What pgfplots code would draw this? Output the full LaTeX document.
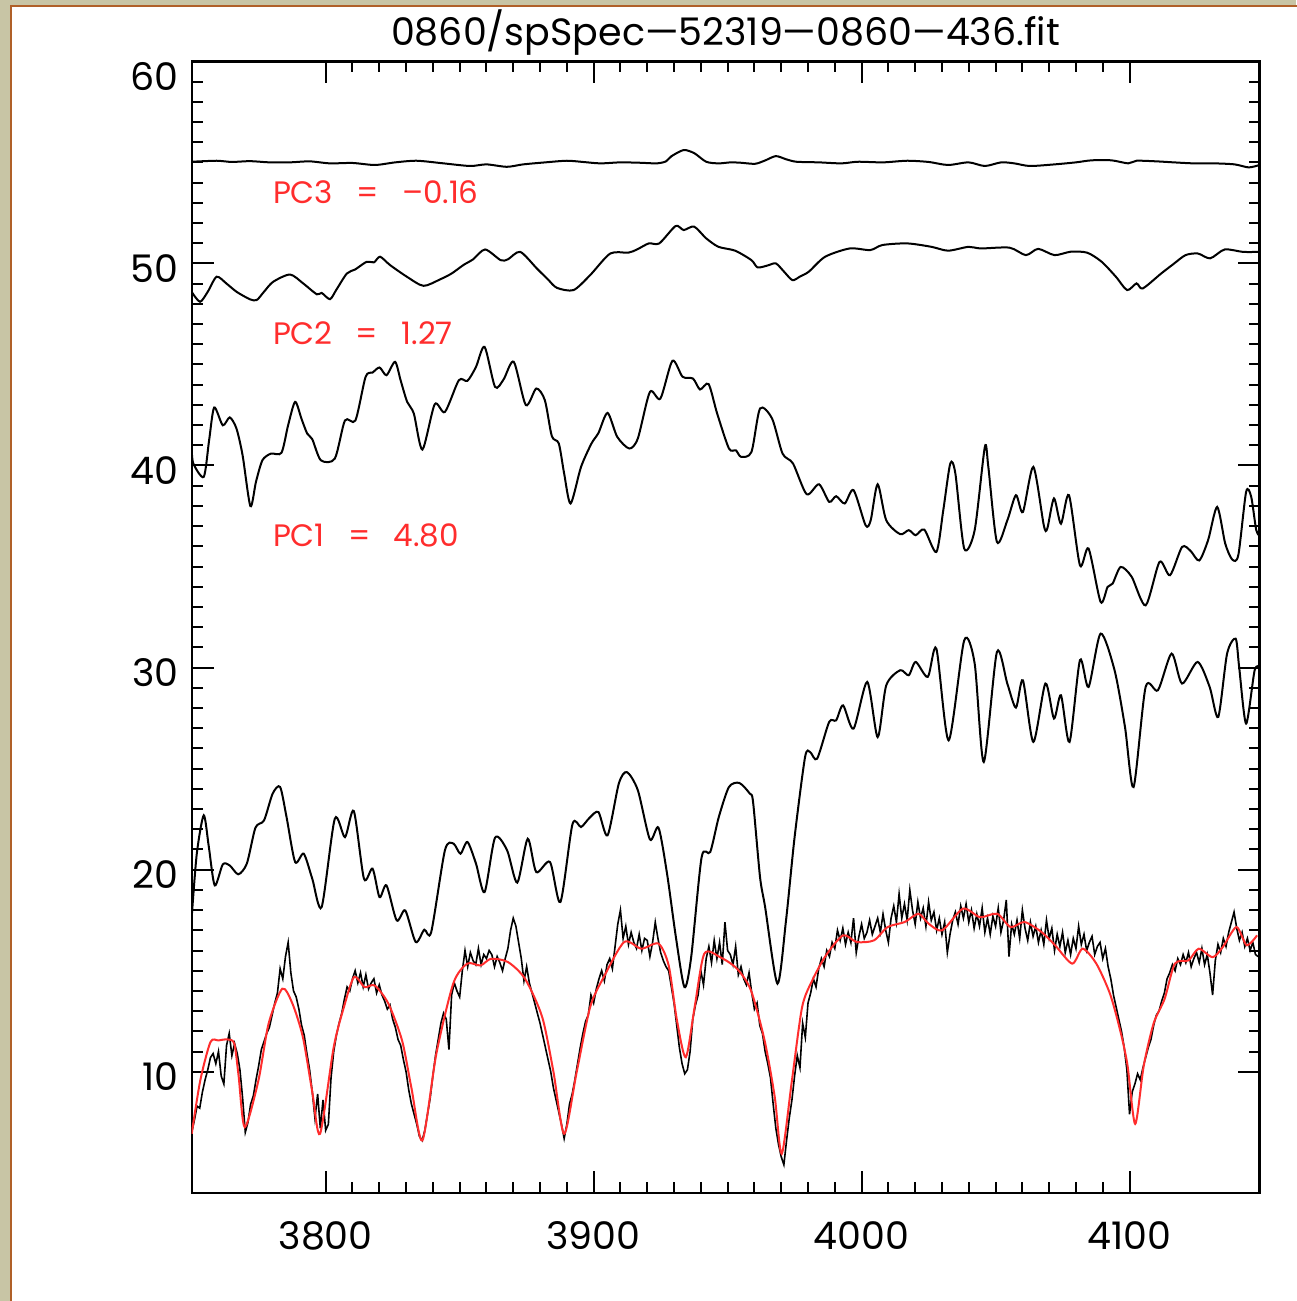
\documentclass[border=0pt]{standalone}
\usepackage{fontspec}
\setmainfont{Poppins}
\usepackage{pgfplots}
\pgfplotsset{compat=1.18}
\usepackage{pgfplotstable}

\definecolor{tanbg}{RGB}{200,197,165}
\definecolor{brownline}{RGB}{176,96,40}
\definecolor{idlred}{RGB}{255,45,45}

\pgfplotstableread{
x y
3750 55.03
3759.3 55.08
3765 55.02
3771.8 55.06
3779 55.0
3786.7 55.0
3794 55.05
3801.6 54.95
3810 54.97
3818.4 54.87
3826 55.0
3834.0 55.08
3844 54.95
3853.9 54.82
3860 54.9
3867.6 54.78
3873.7 54.9
3882 55.0
3890.0 55.08
3896 55.02
3902.5 54.95
3910 55.0
3917.4 54.98
3923.7 54.95
3927 55.05
3929.0 55.3
3933.6 55.61
3937.6 55.45
3942.0 55.03
3946.6 54.95
3951.2 55.0
3955 54.98
3960.3 54.93
3964.1 55.1
3968.0 55.31
3971.9 55.15
3975.7 55.03
3984 55.0
3992.5 54.95
3998.6 55.03
4008 55.0
4017.0 55.08
4025 55.02
4032.3 54.87
4039.9 55.0
4046.0 54.82
4052.1 55.0
4057 54.95
4062.8 54.82
4072.0 54.9
4080 55.0
4085.8 55.1
4093.3 55.1
4099.5 54.95
4102.6 55.08
4110 55.05
4116.4 55.0
4123.9 54.95
4131.7 54.95
4139.2 54.9
4144.5 54.75
4148.5 54.87
}\pcthree

\pgfplotstableread{
x y
3750 48.59
3753.1 48.10
3756 48.6
3759.3 49.34
3763 49.0
3766.8 48.59
3771.8 48.22
3774.3 48.19
3777 48.6
3780.4 49.09
3786.7 49.45
3791.6 49.01
3796.7 48.47
3798.5 48.54
3801.6 48.23
3804 48.7
3807.9 49.50
3811 49.7
3815.3 50.08
3818 50.05
3820.3 50.33
3824.0 49.92
3830.3 49.34
3836.5 48.89
3842.7 49.21
3847 49.5
3851.4 49.92
3855 50.2
3859.5 50.69
3865.3 50.16
3868 50.2
3872.6 50.57
3878.8 49.75
3883 49.2
3886.3 48.79
3892.5 48.68
3898.7 49.42
3906.2 50.49
3912.9 50.53
3916.2 50.69
3920.6 50.99
3924.5 50.99
3930.6 51.85
3933.6 51.65
3937.5 51.82
3942.0 51.24
3946.6 50.82
3952.8 50.63
3958.9 50.16
3961.2 49.80
3965 49.9
3968.0 50.0
3971 49.6
3974.2 49.17
3977 49.35
3980.3 49.59
3986.4 50.33
3995.6 50.74
4003.2 50.66
4007.8 50.91
4017.0 50.99
4026.1 50.82
4032.3 50.63
4039.9 50.82
4044.5 50.74
4055.2 50.78
4061.3 50.41
4065.9 50.72
4072.0 50.41
4078.1 50.58
4084.2 50.53
4089.6 50.08
4094.9 49.34
4099.1 48.68
4102.6 49.01
4104.9 48.76
4111.8 49.5
4116.4 49.97
4120.9 50.41
4125.5 50.49
4130.1 50.25
4135.5 50.69
4142.3 50.57
4148.5 50.57
}\pctwo

\pgfplotstableread{
x y
3750 40.84
3750.6 40.10
3754.5 39.44
3756.5 41.25
3758.4 42.87
3761.6 41.99
3764.2 42.38
3766.7 41.83
3769 40.5
3771.9 37.99
3774 39.2
3776.4 40.26
3779.6 40.59
3783.5 40.63
3786 42.0
3788.6 43.15
3791 42.3
3793.1 41.58
3795 41.3
3798.2 40.26
3803.4 40.34
3807.2 42.23
3811.1 42.23
3814.9 44.39
3817.5 44.6
3820.1 44.85
3822.7 44.47
3825.9 45.13
3828 44.2
3830.4 43.15
3832.9 42.57
3836.1 40.79
3840.7 43.03
3844.5 42.65
3849.7 44.22
3852.9 44.19
3856.1 44.88
3859.3 45.87
3863.2 43.89
3866.4 44.26
3870.2 45.13
3874.7 42.99
3878.6 43.81
3881.8 43.23
3884.4 41.45
3887.0 41.09
3889 39.6
3891.4 38.12
3895.3 39.93
3899.2 41.09
3901.8 41.61
3905.2 42.60
3908.8 41.42
3913.3 40.84
3916.5 41.34
3921.0 43.64
3924.9 43.31
3929.4 45.18
3933.2 44.39
3937.1 44.3
3939.7 43.76
3942.9 44.03
3946.1 42.57
3950.5 40.84
3953.1 40.75
3955.0 40.43
3958.9 40.67
3962.1 42.82
3966.6 42.32
3970.5 40.59
3974.4 40.1
3979.5 38.58
3984.1 39.07
3987.9 38.2
3990.5 38.48
3993.7 38.12
3997.0 38.78
4001.5 37.04
4003.4 37.29
4006.0 39.07
4009.2 37.29
4014.4 36.60
4017.6 36.8
4020.2 36.55
4023.4 36.83
4027.9 35.72
4030.5 37.8
4033.1 40.10
4035.0 39.6
4038.3 35.89
4042.2 36.8
4046.0 40.92
4047.3 39.93
4050.5 36.22
4054.4 37.29
4057.6 38.53
4060.2 37.70
4064.1 39.93
4068.0 37.04
4069.3 36.88
4071.8 38.37
4074.4 37.12
4077.4 38.53
4081.5 35.06
4084.7 35.89
4089.2 33.25
4091.8 33.99
4093.7 34.16
4096.7 34.98
4100.8 34.49
4106.0 33.08
4111.2 35.23
4115.1 34.57
4119.6 35.97
4122.8 35.77
4126.0 35.3
4129.3 36.3
4132.7 37.95
4135.7 36.14
4138.3 35.35
4140.6 35.57
4143.5 38.69
4145.4 38.45
4147.3 36.8
4148.9 36.47
}\pcone

\pgfplotstableread{
x y
3750.0 17.65
3751.9 20.79
3754.5 22.69
3756.4 21.12
3758.6 19.22
3761.6 20.26
3764.2 20.21
3767.4 19.77
3770.6 20.31
3773.8 22.08
3777.0 22.44
3780.2 23.76
3783.0 24.09
3785.4 22.6
3788.6 20.38
3791.8 20.79
3795.0 19.55
3798.5 18.15
3803.4 22.52
3807.2 21.61
3810.5 22.90
3814.3 19.55
3817.5 20.05
3820.1 18.64
3822.7 19.22
3826.5 17.49
3829.7 17.98
3833.6 16.42
3836.8 17.03
3839.4 16.92
3844.5 20.96
3847.7 21.29
3850.3 20.79
3852.9 21.37
3856.1 20.30
3859.3 18.89
3863.2 21.58
3867.7 20.96
3871.5 19.36
3875.4 21.53
3878.6 19.88
3883.7 20.38
3887.6 18.40
3892.1 22.25
3895.3 22.11
3898.5 22.57
3901.8 22.85
3905.2 21.70
3909.4 24.26
3912.4 24.83
3916.5 23.93
3921.0 21.5
3924.2 22.08
3927.4 19.8
3930.7 16.66
3933.9 14.19
3936.4 15.67
3940.3 20.62
3943.5 20.87
3946.7 22.6
3950.5 24.09
3954.4 24.29
3958.3 23.76
3959.5 23.35
3962.1 19.63
3964.0 18.15
3968.6 14.36
3971.8 17.49
3975.0 21.61
3978.9 25.57
3980.8 25.82
3983.4 25.49
3987.9 27.31
3990.5 27.39
3993.1 28.13
3997.0 26.98
4002.1 29.29
4006.0 26.56
4009.2 29.12
4014.4 29.87
4017.6 29.62
4020.2 30.28
4024.7 29.54
4027.9 30.94
4032.5 26.4
4038.3 31.35
4042.2 30.2
4045.6 25.33
4050.5 30.77
4054.4 29.2
4057.6 28.02
4060.2 29.37
4064.1 26.32
4068.6 29.21
4071.8 27.48
4074.4 28.63
4077.6 26.32
4081.5 30.37
4084.7 29.04
4089.2 31.68
4094.4 29.87
4098.3 27.06
4101.5 24.09
4106.0 29.04
4110.6 28.88
4115.7 30.69
4119.6 29.21
4125.4 30.28
4129.9 29.04
4133.1 27.56
4136.4 30.69
4139.6 31.43
4140.9 30.03
4143.5 27.23
4146.7 29.87
4148.9 30.03
}\meanspec

\pgfplotstableread{
x y
3750 6.93
3753.2 9.57
3757.0 11.47
3760 11.55
3763.4 11.6
3765.9 11.39
3767.5 9.8
3769.8 7.26
3774.9 9.57
3778.7 12.38
3783.8 14.11
3787.6 13.37
3791.5 11.71
3795 9.0
3797.9 6.93
3803.0 11.22
3806.8 13.2
3810.6 14.69
3814.5 14.19
3818.3 14.27
3823.4 13.37
3828.5 11.55
3832 9.2
3836.1 6.6
3841.3 10.89
3847.6 14.36
3852.8 15.35
3857.8 15.26
3861.7 15.59
3868.0 15.43
3874.4 14.60
3880.8 12.71
3885 10.0
3889.0 6.93
3893.6 9.93
3898.7 13.2
3903.8 14.69
3911.4 16.42
3917.8 16.09
3924.2 16.34
3928.0 15.26
3931.1 12.54
3934.4 10.72
3937.7 13.2
3941.3 15.84
3947.2 15.67
3953.5 15.1
3958.7 14.03
3963.8 11.55
3967.6 8.74
3970.2 5.94
3974.0 9.57
3977.8 13.2
3981.6 14.52
3986.7 15.76
3993.1 16.75
3998.2 16.42
4004.6 16.5
4009.7 17.16
4016.1 17.41
4021.2 17.82
4025.0 17.33
4030.1 17.0
4037.8 18.07
4044.2 17.65
4050.6 17.82
4055.6 17.16
4060.8 17.41
4067.1 16.92
4072.2 16.26
4078.6 15.35
4082.5 16.09
4087.6 15.35
4092.7 13.86
4096.5 12.05
4099.2 10.35
4102.1 7.42
4105.3 10.3
4109 12.4
4113.1 13.61
4116.9 15.35
4122.0 15.51
4125.8 16.09
4131.0 15.67
4134.8 16.17
4139.9 17.16
4143.7 16.26
4147.6 16.75
}\model

\pgfplotstableread{
x y
3750 7.0
3751 7.6
3752 8.3
3753 8.2
3754 9.0
3755 9.6
3756 10.1
3757 10.7
3758 10.9
3759 10.4
3760 11.0
3761 9.8
3762 9.4
3763 11.3
3764 11.9
3765 10.8
3766 11.4
3767 10.9
3768 10.1
3769 8.7
3770 7.0
3771 7.5
3772 8.4
3773 8.8
3774 9.6
3775 10.3
3776 11.1
3777 11.5
3778 11.9
3779 12.2
3780 12.8
3781 13.4
3782 13.9
3783 15.1
3784 14.6
3785 15.7
3786 16.4
3787 14.9
3788 14.0
3789 13.7
3790 13.1
3791 12.3
3792 11.8
3793 10.9
3794 10.1
3795 9.0
3796 7.7
3797 8.9
3798 7.2
3799 8.6
3800 7.1
3801 7.4
3802 9.7
3803 11.0
3804 11.8
3805 12.4
3806 12.9
3807 13.6
3808 14.2
3809 14.0
3810 14.6
3811 15.0
3812 14.4
3813 14.9
3814 14.2
3815 14.8
3816 14.1
3817 14.4
3818 14.6
3819 13.9
3820 14.3
3821 13.8
3822 13.5
3823 13.1
3824 13.3
3825 12.6
3826 12.2
3827 11.6
3828 11.3
3829 10.6
3830 10.0
3831 9.1
3832 8.4
3833 7.9
3834 7.4
3835 6.8
3836 6.6
3837 7.1
3838 7.9
3839 8.7
3840 9.8
3841 10.8
3842 11.6
3843 12.4
3844 12.9
3845 12.6
3846 11.1
3847 13.8
3848 14.4
3849 14.0
3850 13.7
3851 15.0
3852 16.0
3853 15.2
3854 15.9
3855 15.5
3856 15.3
3857 16.1
3858 15.3
3859 15.8
3860 15.6
3861 16.0
3862 15.8
3863 15.2
3864 15.7
3865 15.4
3866 15.0
3867 15.6
3868 16.1
3869 17.0
3870 17.6
3871 17.2
3872 16.4
3873 15.6
3874 14.5
3875 15.2
3876 14.4
3877 13.9
3878 13.4
3879 12.9
3880 12.4
3881 11.8
3882 11.2
3883 10.6
3884 10.0
3885 9.2
3886 8.6
3887 8.0
3888 7.4
3889 6.7
3890 7.4
3891 8.4
3892 8.9
3893 9.6
3894 10.4
3895 11.2
3896 11.9
3897 12.5
3898 12.8
3899 13.8
3900 13.4
3901 14.1
3902 14.6
3903 15.0
3904 14.5
3905 15.3
3906 15.6
3907 15.1
3908 16.2
3909 17.3
3910 18.0
3911 16.6
3912 17.2
3913 16.3
3914 16.9
3915 16.4
3916 16.1
3917 16.8
3918 16.0
3919 16.6
3920 16.5
3921 15.7
3922 16.4
3923 17.4
3924 16.6
3925 15.9
3926 15.5
3927 15.2
3928 15.0
3929 14.2
3930 13.4
3931 12.3
3932 11.2
3933 10.4
3934 9.9
3935 10.1
3936 11.0
3937 12.6
3938 13.3
3939 13.8
3940 15.0
3941 14.3
3942 15.6
3943 16.2
3944 15.4
3945 16.5
3946 15.6
3947 16.4
3948 15.3
3949 17.4
3950 16.0
3951 15.8
3952 15.3
3953 16.2
3954 14.8
3955 15.2
3956 14.6
3957 14.3
3958 14.9
3959 13.9
3960 13.1
3961 13.4
3962 12.3
3963 11.9
3964 11.0
3965 10.4
3966 9.7
3967 8.4
3968 7.2
3969 6.4
3970 5.8
3971 5.4
3972 6.6
3973 7.7
3974 8.6
3975 9.8
3976 10.8
3977 10.2
3978 12.4
3979 11.7
3980 13.4
3981 13.9
3982 14.6
3983 14.2
3984 15.1
3985 15.6
3986 15.2
3987 16.0
3988 15.7
3989 16.4
3990 16.1
3991 17.0
3992 16.5
3993 17.1
3994 16.3
3995 16.9
3996 16.4
3997 17.6
3998 15.9
3999 16.7
4000 17.3
4001 16.6
4002 16.9
4003 17.5
4004 16.8
4005 17.2
4006 17.6
4007 16.9
4008 17.8
4009 17.0
4010 16.4
4011 17.6
4012 18.2
4013 17.4
4014 18.8
4015 17.6
4016 18.3
4017 17.5
4018 19.0
4019 18.0
4020 17.3
4021 18.4
4022 17.6
4023 18.1
4024 17.2
4025 18.4
4026 17.5
4027 17.9
4028 17.0
4029 17.6
4030 16.8
4031 17.4
4032 15.9
4033 16.8
4034 17.5
4035 17.9
4036 17.3
4037 18.2
4038 17.6
4039 18.3
4040 17.4
4041 18.0
4042 17.1
4043 17.8
4044 17.2
4045 18.1
4046 16.9
4047 17.6
4048 16.8
4049 17.7
4050 17.2
4051 18.1
4052 16.9
4053 17.5
4054 18.5
4055 15.7
4056 17.3
4057 16.8
4058 17.5
4059 16.6
4060 18.0
4061 17.1
4062 16.5
4063 17.4
4064 16.7
4065 17.2
4066 16.4
4067 17.0
4068 16.3
4069 17.5
4070 16.6
4071 17.1
4072 16.0
4073 16.8
4074 16.2
4075 16.9
4076 15.9
4077 16.5
4078 15.8
4079 16.6
4080 16.1
4081 17.2
4082 16.3
4083 16.8
4084 16.0
4085 16.4
4086 16.7
4087 15.8
4088 16.2
4089 16.4
4090 15.6
4091 16.1
4092 15.2
4093 14.6
4094 13.8
4095 13.2
4096 12.6
4097 12.0
4098 11.2
4099 10.1
4100 7.9
4101 9.0
4102 9.4
4103 9.9
4104 9.6
4105 10.2
4106 10.7
4107 11.2
4108 11.6
4109 12.3
4110 12.8
4111 13.0
4112 13.5
4113 13.9
4114 14.6
4115 14.9
4116 15.3
4117 15.0
4118 15.6
4119 15.3
4120 15.8
4121 15.4
4122 15.9
4123 15.2
4124 15.6
4125 15.9
4126 15.4
4127 16.1
4128 15.3
4129 15.8
4130 14.9
4131 13.8
4132 15.5
4133 16.3
4134 15.9
4135 16.6
4136 16.2
4137 16.9
4138 17.4
4139 17.9
4140 17.1
4141 16.5
4142 16.9
4143 16.2
4144 16.6
4145 16.0
4146 16.4
4147 15.8
4148 15.7
}\obsspec

\begin{document}
\begin{tikzpicture}
\path[use as bounding box] (0,0) rectangle (648pt,-650.5pt);
\fill[tanbg] (0,0) rectangle (648pt,-650.5pt);
\fill[white] (5.5pt,-3pt) rectangle (652pt,-654pt);
\draw[brownline, line width=1.1pt] (5.5pt,-654pt) -- (5.5pt,-3pt) -- (652pt,-3pt);

\begin{axis}[
  at={(95.85pt,-596.5pt)}, anchor=south west,
  scale only axis, width=533.9pt, height=565.85pt,
  xmin=3750, xmax=4148.5, ymin=4, ymax=60,
  xtick={3800,3900,4000,4100},
  ytick={10,20,30,40,50,60},
  yticklabels={10,20,30,40,50,{}},
  minor x tick num=9, minor y tick num=9,
  tick align=inside, xtick pos=both, ytick pos=both,
  major tick length=11pt, minor tick length=5.5pt,
  tick style={black, line width=1pt},
  axis line style={black, line width=1.2pt},
  /pgf/number format/assume math mode=true,
  /pgf/number format/1000 sep={},
  xticklabel style={font=\fontsize{19}{19}\selectfont, inner sep=0pt, anchor=north, yshift=-14pt},
  yticklabel style={font=\fontsize{19}{19}\selectfont, inner sep=0pt, anchor=east, xshift=-6.5pt, yshift=-2.5pt},
]
\addplot[black, line width=1.0pt, smooth, tension=0.45] table[x=x,y=y] {\pcthree};
\addplot[black, line width=1.0pt, smooth, tension=0.45] table[x=x,y=y] {\pctwo};
\addplot[black, line width=1.0pt, smooth, tension=0.45] table[x=x,y=y] {\pcone};
\addplot[black, line width=1.0pt, smooth, tension=0.45] table[x=x,y=y] {\meanspec};
\addplot[black, line width=0.8pt] table[x=x,y=y] {\obsspec};
\addplot[idlred, line width=1.0pt, smooth, tension=0.45] table[x=x,y=y] {\model};
\node[anchor=base west, inner sep=0pt, text=idlred, font=\fontsize{15.5}{15.5}\selectfont] at (axis cs:3780.2,52.97) {PC3\hspace{0.75em}=\hspace{0.75em}–0.16};
\node[anchor=base west, inner sep=0pt, text=idlred, font=\fontsize{15.5}{15.5}\selectfont] at (axis cs:3780.2,46.0) {PC2\hspace{0.75em}=\hspace{0.75em}1.27};
\node[anchor=base west, inner sep=0pt, text=idlred, font=\fontsize{15.5}{15.5}\selectfont] at (axis cs:3780.2,35.97) {PC1\hspace{0.75em}=\hspace{0.75em}4.80};
\end{axis}
\node[anchor=east, inner sep=0pt, font=\fontsize{19}{19}\selectfont] at (89.35pt,-38.15pt) {60};
\node[anchor=base, inner sep=0pt, font=\fontsize{19}{19}\selectfont] at (362.8pt,-22.5pt) {0860/spSpec—52319—0860—436.fit};
\end{tikzpicture}
\end{document}
